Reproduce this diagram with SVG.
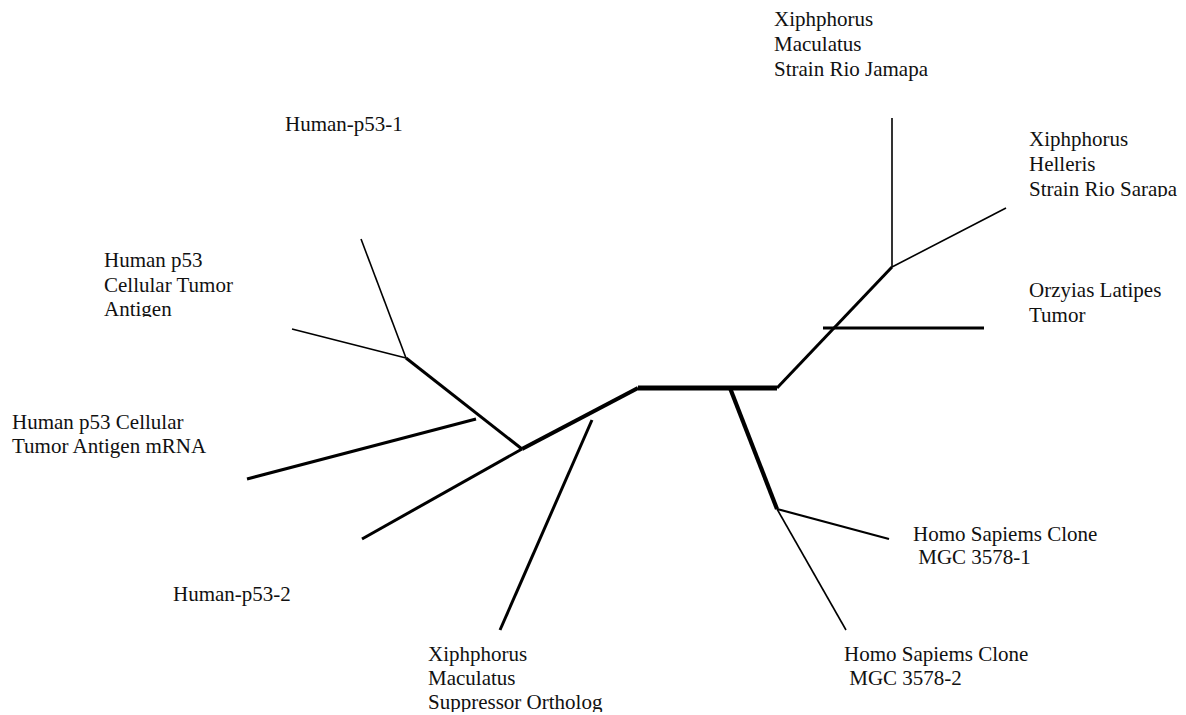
<svg xmlns="http://www.w3.org/2000/svg" width="1186" height="715" viewBox="0 0 1186 715">
  <style>
    .lbl { font-family: "Liberation Serif", "Times New Roman", serif; font-size: 21px; fill: #111; }
    .br { stroke: #000; fill: none; stroke-linecap: butt; }
    .w1 { stroke-width: 1.6; }
    .w2 { stroke-width: 2.2; }
    .w3 { stroke-width: 3; }
    .w4 { stroke-width: 4.2; }
    .w5 { stroke-width: 5; }
  </style>
  <defs>
    <clipPath id="clipSarapa"><rect x="1020" y="120" width="166" height="77"/></clipPath>
    <clipPath id="clipAntigen"><rect x="95" y="240" width="200" height="77"/></clipPath>
    <clipPath id="clipOrtholog"><rect x="420" y="636" width="220" height="76"/></clipPath>
  </defs>
  <rect width="1186" height="715" fill="#fff"/>

  <!-- tree branches -->
  <g id="connectors">
    <line class="br w5" x1="638" y1="388" x2="777" y2="388"/>
    <line class="br w4" x1="522" y1="449" x2="638" y2="388"/>
    <line class="br w4" x1="730" y1="388" x2="777" y2="509"/>
    <line class="br w3" x1="777" y1="388" x2="892" y2="267"/>
    <line class="br w3" x1="406" y1="358" x2="522" y2="449"/>
    <line class="br w1" x1="361" y1="239" x2="406" y2="358"/>
    <line class="br w1" x1="292" y1="329" x2="406" y2="358"/>
    <line class="br w3" x1="247" y1="479" x2="476" y2="419"/>
    <line class="br w3" x1="362" y1="539" x2="522" y2="449"/>
    <line class="br w3" x1="592" y1="420" x2="500" y2="630"/>
    <line class="br w1" x1="892" y1="118" x2="892" y2="267"/>
    <line class="br w1" x1="892" y1="267" x2="1006" y2="208"/>
    <line class="br w3" x1="823" y1="328" x2="984" y2="328"/>
    <line class="br w2" x1="777" y1="509" x2="889" y2="539"/>
    <line class="br w1" x1="777" y1="509" x2="846" y2="630"/>
  </g>

  <!-- leaf labels -->
  <g id="xm-jamapa">
    <text class="lbl" x="774" y="26">Xiphphorus</text>
    <text class="lbl" x="774" y="51">Maculatus</text>
    <text class="lbl" x="774" y="76">Strain Rio Jamapa</text>
  </g>
  <g id="xh-sarapa" clip-path="url(#clipSarapa)">
    <text class="lbl" x="1029" y="146">Xiphphorus</text>
    <text class="lbl" x="1029" y="171">Helleris</text>
    <text class="lbl" x="1029" y="196">Strain Rio Sarapa</text>
  </g>
  <g id="orzyias">
    <text class="lbl" x="1029" y="297">Orzyias Latipes</text>
    <text class="lbl" x="1029" y="322">Tumor</text>
  </g>
  <g id="human-p53-1">
    <text class="lbl" x="285" y="131">Human-p53-1</text>
  </g>
  <g id="human-p53-antigen" clip-path="url(#clipAntigen)">
    <text class="lbl" x="104" y="267">Human p53</text>
    <text class="lbl" x="104" y="292">Cellular Tumor</text>
    <text class="lbl" x="104" y="316">Antigen</text>
  </g>
  <g id="human-p53-mrna">
    <text class="lbl" x="12" y="429">Human p53 Cellular</text>
    <text class="lbl" x="12" y="453">Tumor Antigen mRNA</text>
  </g>
  <g id="human-p53-2">
    <text class="lbl" x="173" y="601">Human-p53-2</text>
  </g>
  <g id="xm-suppressor" clip-path="url(#clipOrtholog)">
    <text class="lbl" x="428" y="661">Xiphphorus</text>
    <text class="lbl" x="428" y="685">Maculatus</text>
    <text class="lbl" x="428" y="709">Suppressor Ortholog</text>
  </g>
  <g id="mgc-1">
    <text class="lbl" x="913" y="541">Homo Sapiems Clone</text>
    <text class="lbl" x="913" y="564" xml:space="preserve"> MGC 3578-1</text>
  </g>
  <g id="mgc-2">
    <text class="lbl" x="844" y="661">Homo Sapiems Clone</text>
    <text class="lbl" x="844" y="685" xml:space="preserve"> MGC 3578-2</text>
  </g>
</svg>
